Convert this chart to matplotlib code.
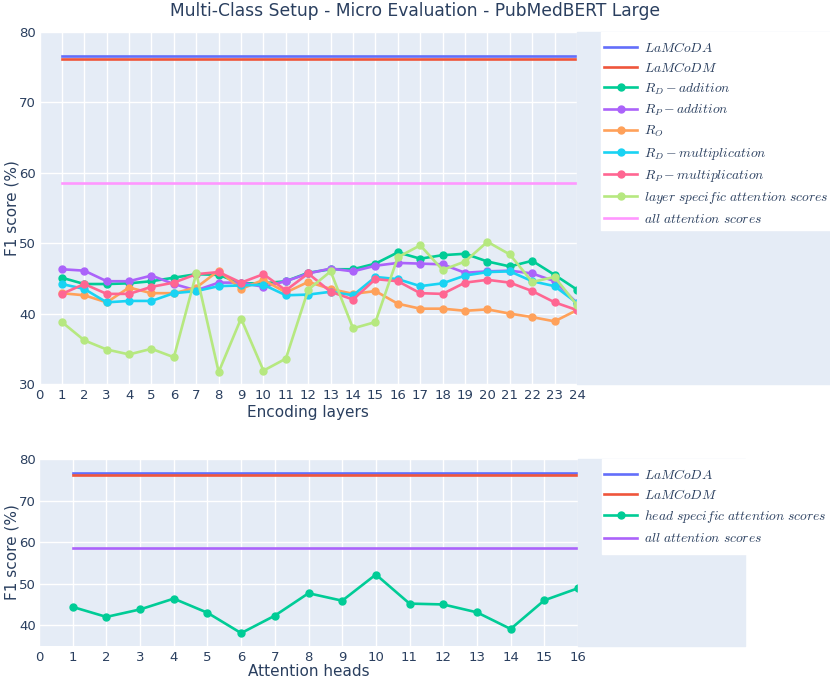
import matplotlib
matplotlib.use("Agg")
import matplotlib.pyplot as plt
from matplotlib.patches import Rectangle

plt.rcParams['font.family'] = ['DejaVu Sans']
plt.rcParams['mathtext.fontset'] = 'cm'

TXT = '#2a3f5f'
BG = '#E5ECF6'

# ---------------- data ----------------
layers = list(range(1, 25))
lamcoda_top = 76.6
lamcodm_top = 76.2
all_att_top = 58.5
rd_add = [45.1, 44.2, 44.2, 44.3, 44.6, 45.1, 45.6, 45.5, 44.3, 44.3, 44.6, 45.8,
          46.3, 46.3, 47.1, 48.7, 47.8, 48.3, 48.5, 47.4, 46.7, 47.5, 45.5, 43.4]
rp_add = [46.3, 46.1, 44.6, 44.6, 45.4, 44.2, 43.3, 44.4, 44.4, 43.8, 44.6, 45.7,
          46.4, 46.0, 46.8, 47.2, 47.1, 47.0, 45.8, 46.0, 46.1, 45.7, 44.6, 41.5]
r_o = [42.9, 42.6, 41.6, 43.7, 42.9, 42.9, 43.7, 46.1, 43.5, 44.8, 43.0, 44.5,
       43.5, 42.8, 43.2, 41.4, 40.7, 40.7, 40.4, 40.6, 40.0, 39.5, 38.9, 40.5]
rd_mul = [44.2, 43.5, 41.6, 41.8, 41.8, 42.9, 43.2, 43.9, 44.0, 44.1, 42.6, 42.7,
          43.1, 42.6, 45.2, 44.9, 43.9, 44.3, 45.4, 45.9, 46.0, 44.6, 43.9, 41.5]
rp_mul = [42.8, 44.2, 42.8, 42.8, 43.8, 44.4, 45.6, 45.9, 44.4, 45.6, 43.3, 45.7,
          43.1, 42.0, 44.9, 44.6, 42.9, 42.8, 44.4, 44.8, 44.4, 43.2, 41.6, 40.5]
layer_att = [38.8, 36.2, 34.9, 34.2, 35.0, 33.8, 45.7, 31.7, 39.3, 31.9, 33.6, 43.4,
             46.0, 37.9, 38.8, 48.0, 49.7, 46.2, 47.4, 50.2, 48.4, 44.5, 45.2, 41.2]

heads = list(range(1, 17))
lamcoda_bot = 76.6
lamcodm_bot = 76.2
all_att_bot = 58.5
head_att = [44.4, 42.0, 43.8, 46.4, 43.0, 38.1, 42.3, 47.7, 45.9, 52.2, 45.2, 45.0,
            43.1, 39.1, 46.0, 48.9]

top_series = [
    (r'$LaMCoDA$', [lamcoda_top] * len(layers), '#636EFA', False),
    (r'$LaMCoDM$', [lamcodm_top] * len(layers), '#EF553B', False),
    (r'$R_D - addition$', rd_add, '#00CC96', True),
    (r'$R_P - addition$', rp_add, '#AB63FA', True),
    (r'$R_O$', r_o, '#FFA15A', True),
    (r'$R_D - multiplication$', rd_mul, '#19D3F3', True),
    (r'$R_P - multiplication$', rp_mul, '#FF6692', True),
    (r'$layer\ specific\ attention\ scores$', layer_att, '#B6E880', True),
    (r'$all\ attention\ scores$', [all_att_top] * len(layers), '#FF97FF', False),
]
bot_series = [
    (r'$LaMCoDA$', [lamcoda_bot] * len(heads), '#636EFA', False),
    (r'$LaMCoDM$', [lamcodm_bot] * len(heads), '#EF553B', False),
    (r'$head\ specific\ attention\ scores$', head_att, '#00CC96', True),
    (r'$all\ attention\ scores$', [all_att_bot] * len(heads), '#AB63FA', False),
]

W, H = 830, 682
fig = plt.figure(figsize=(W / 100, H / 100), dpi=100)


def fbox(x0, y0, x1, y1):
    return [x0 / W, 1 - y1 / H, (x1 - x0) / W, (y1 - y0) / H]


def style(ax, xmax, ylim, yticks):
    ax.set_facecolor(BG)
    for s in ax.spines.values():
        s.set_visible(False)
    ax.set_xlim(0, xmax)
    ax.set_ylim(*ylim)
    ax.set_xticks(range(0, xmax + 1))
    ax.set_yticks(yticks)
    ax.grid(True, color='white', lw=1.0)
    ax.set_axisbelow(True)
    ax.tick_params(length=0, labelsize=9.5, labelcolor=TXT)
    ax.tick_params(axis='x', pad=3.5)
    ax.tick_params(axis='y', pad=2.4)


LEG = dict(loc='upper left', frameon=False, fontsize=9.8, handlelength=2.45,
           handletextpad=0.5, labelspacing=0.45, borderpad=0, borderaxespad=0,
           labelcolor=TXT)

# ---- top panel ----
ax1 = fig.add_axes(fbox(39.5, 32, 577, 384))
style(ax1, 24, (30, 80), range(30, 81, 10))
fig.patches.append(Rectangle((577 / W, 1 - 384 / H), (W - 577) / W, (384 - 32) / H,
                             transform=fig.transFigure, color=BG, zorder=0))
fig.patches.append(Rectangle((601 / W, 1 - 230 / H), (W - 601) / W, (230 - 32) / H,
                             transform=fig.transFigure, color='white', zorder=0.5))
h1 = []
for lab, vals, col, mk in top_series:
    ln, = ax1.plot(layers, vals, color=col, lw=1.9,
                   marker='o' if mk else None, ms=5, label=lab)
    h1.append(ln)
ax1.set_xlabel('Encoding layers', fontsize=11, color=TXT, va='center')
ax1.xaxis.set_label_coords(0.5, -0.08)
ax1.set_ylabel('F1 score (%)', fontsize=11, color=TXT, va='center')
ax1.yaxis.set_label_coords(-0.051, 0.5)
fig.legend(handles=h1, bbox_to_anchor=(604 / W, 1 - 41 / H), **LEG)

# ---- bottom panel ----
ax2 = fig.add_axes(fbox(39, 459, 578, 646))
style(ax2, 16, (35, 80), range(40, 81, 10))
fig.patches.append(Rectangle((578 / W, 1 - 646 / H), (745 - 578) / W, (646 - 459) / H,
                             transform=fig.transFigure, color=BG, zorder=0))
fig.patches.append(Rectangle((602 / W, 1 - 554 / H), (W - 602) / W, (554 - 459) / H,
                             transform=fig.transFigure, color='white', zorder=0.5))
h2 = []
for lab, vals, col, mk in bot_series:
    ln, = ax2.plot(heads, vals, color=col, lw=1.9,
                   marker='o' if mk else None, ms=5, label=lab)
    h2.append(ln)
ax2.set_xlabel('Attention heads', fontsize=11, color=TXT, va='center')
ax2.xaxis.set_label_coords(0.5, -0.139)
ax2.set_ylabel('F1 score (%)', fontsize=11, color=TXT, va='center')
ax2.yaxis.set_label_coords(-0.051, 0.5)
fig.legend(handles=h2, bbox_to_anchor=(604 / W, 1 - 468 / H), **LEG)

fig.text(0.5, 1 - 11 / H, 'Multi-Class Setup - Micro Evaluation - PubMedBERT Large',
         ha='center', va='center', fontsize=12.3, color=TXT)

fig.savefig('out.png', dpi=100)
